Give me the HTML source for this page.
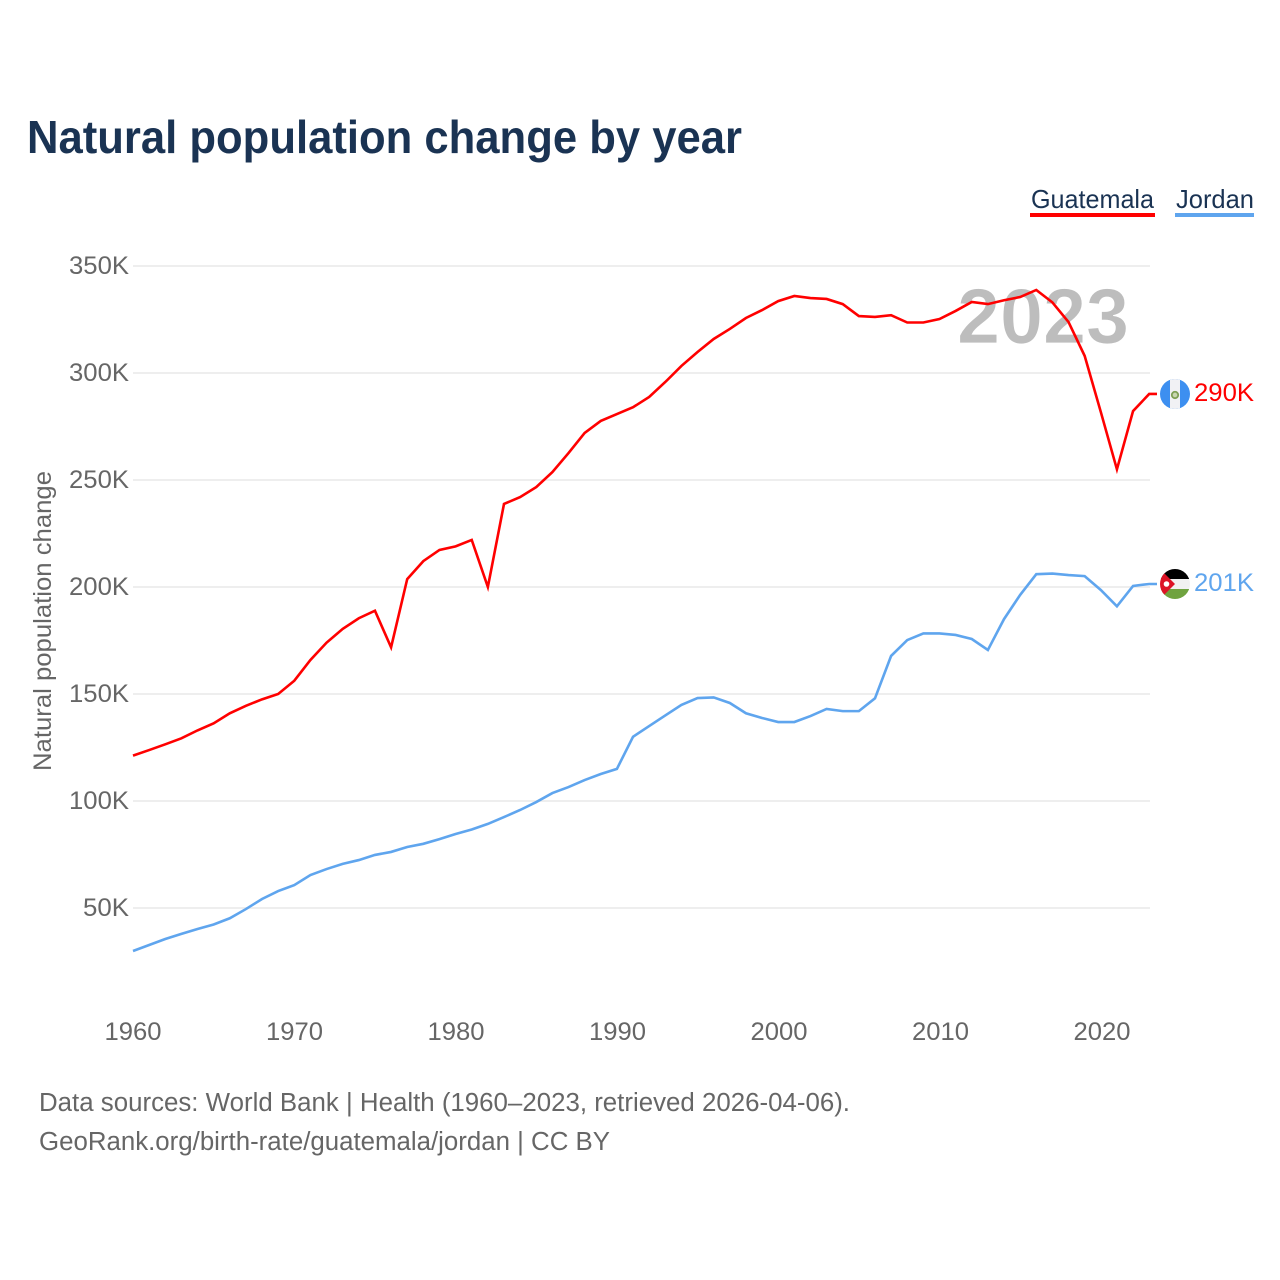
<!DOCTYPE html>
<html lang="en">
<head>
<meta charset="utf-8">
<title>Natural population change by year</title>
<style>
html,body{margin:0;padding:0;background:#fff;width:1280px;height:1280px;overflow:hidden}
svg{display:block;font-family:"Liberation Sans",Arial,sans-serif}
</style>
</head>
<body>
<svg id="chart" xmlns="http://www.w3.org/2000/svg" width="1280" height="1280" viewBox="0 0 1280 1280">
  <defs>
    <clipPath id="flag-clip"><circle cx="0" cy="0" r="15"/></clipPath>
  </defs>
  <rect width="1280" height="1280" fill="#fff"/>
  <text x="27" y="153" font-size="46" font-weight="700" fill="#1a3353" textLength="715" lengthAdjust="spacingAndGlyphs">Natural population change by year</text>

  <g>
    <g>
      <text x="1031" y="208" font-size="26" fill="#1a3353" textLength="123" lengthAdjust="spacingAndGlyphs">Guatemala</text>
      <rect x="1030" y="213" width="125" height="4" fill="#ff0000"/>
    </g>
    <g>
      <text x="1176" y="208" font-size="26" fill="#1a3353" textLength="78" lengthAdjust="spacingAndGlyphs">Jordan</text>
      <rect x="1175" y="213" width="79" height="4" fill="#5fa5ee"/>
    </g>
  </g>

  <g id="grid"></g>
  <g id="y-ticks"></g>
  <g id="x-ticks"></g>
  <text x="957" y="343" font-size="78" font-weight="700" fill="#bdbdbd" stroke="#ffffff" stroke-width="0.8" textLength="172" lengthAdjust="spacingAndGlyphs">2023</text>
  <text transform="translate(51,771) rotate(-90)" font-size="25" fill="#666" textLength="300" lengthAdjust="spacingAndGlyphs">Natural population change</text>
  <g id="series"></g>

  <g id="flag-guatemala" clip-path="url(#flag-clip)">
    <rect x="-15" y="-15" width="30" height="30" fill="#3d8ff0"/>
    <rect x="-5" y="-15" width="10" height="30" fill="#f1f1f4"/>
    <circle cx="0" cy="1" r="3.2" fill="#c9d6b0" stroke="#7f9f55" stroke-width="1.8"/>
  </g>
  <g id="flag-jordan" clip-path="url(#flag-clip)">
    <rect x="-15" y="-15" width="30" height="10" fill="#000"/>
    <rect x="-15" y="-5" width="30" height="10" fill="#f1f1f1"/>
    <rect x="-15" y="5" width="30" height="10" fill="#6fa33f"/>
    <polygon points="-15,-15 0,0 -15,15" fill="#dd1326"/>
    <circle cx="-8.5" cy="0" r="2.8" fill="#fff"/>
  </g>

  <text id="label-guatemala" x="1194" font-size="25" fill="#ff0000" textLength="60" lengthAdjust="spacingAndGlyphs"></text>
  <text id="label-jordan" x="1194" font-size="25" fill="#5fa5ee" textLength="60" lengthAdjust="spacingAndGlyphs"></text>

  <text x="39" y="1111" font-size="25.5" fill="#666" textLength="811" lengthAdjust="spacingAndGlyphs">Data sources: World Bank | Health (1960–2023, retrieved 2026-04-06).</text>
  <text x="39" y="1150" font-size="25.5" fill="#666" textLength="571" lengthAdjust="spacingAndGlyphs">GeoRank.org/birth-rate/guatemala/jordan | CC BY</text>
</svg>
<script>
const firstYear = 1960;
const guatemalaValues = [121.2,123.8,126.5,129.3,133,136.3,141,144.5,147.5,150,156.2,165.9,174,180.4,185.4,188.9,171.8,203.7,212.1,217.3,219,222,200,238.8,242,246.7,253.7,262.6,272,277.6,280.8,284,288.8,295.8,303.3,309.8,315.9,320.6,325.7,329.4,333.6,336,335,334.6,332.2,326.6,326.2,327,323.6,323.6,325.2,329,333.2,332.2,334,335.5,338.8,333,323.8,308,281.8,255,282.2,290.2];
const jordanValues = [29.9,32.7,35.5,37.9,40.2,42.3,45.2,49.5,54.2,57.9,60.7,65.4,68.2,70.6,72.4,74.8,76.2,78.5,80,82.2,84.6,86.7,89.3,92.5,95.8,99.5,103.7,106.5,109.8,112.6,115,130,135,140,144.9,148.1,148.4,145.8,141,138.8,136.9,136.9,139.7,143,142,142,148,167.8,175.2,178.3,178.3,177.6,175.7,170.6,185,196.3,206,206.3,205.6,205.1,198.6,191,200.5,201.4];
const yTickValues = [50,100,150,200,250,300,350];
const yTickLabels = ["50K","100K","150K","200K","250K","300K","350K"];
const xTickYears = [1960,1970,1980,1990,2000,2010,2020];
const guatemalaEndLabel = "290K";
const jordanEndLabel = "201K";

const NS = "http://www.w3.org/2000/svg";
function xScale(year){ return 133 + (year - 1960) * 16.13; }
function yScale(v){ return 1015 - v * 2.14; }
function make(tag, attrs, parent){
  const el = document.createElementNS(NS, tag);
  for (const k in attrs) el.setAttribute(k, attrs[k]);
  parent.appendChild(el);
  return el;
}
const grid = document.getElementById("grid");
const yTicks = document.getElementById("y-ticks");
const xTicks = document.getElementById("x-ticks");
const series = document.getElementById("series");

yTickValues.forEach(function(v, i){
  const line = make("line", {x1:133, x2:1150, y1:yScale(v), y2:yScale(v), stroke:"#eeeeee", "stroke-width":2}, grid);
  
  
  const w = yTickLabels[i].length === 3 ? 46 : 60;
  const t = make("text", {x:129, y:yScale(v)+8, "text-anchor":"end", "font-size":25, fill:"#666", textLength:w, lengthAdjust:"spacingAndGlyphs"}, yTicks);
  
  
  t.textContent = yTickLabels[i];
});
xTickYears.forEach(function(yr){
  const t = make("text", {x:xScale(yr) + (yr - 1960) * 0.02, y:1040, "text-anchor":"middle", "font-size":25, fill:"#666", textLength:57, lengthAdjust:"spacingAndGlyphs"}, xTicks);
  
  
  t.textContent = yr;
});
function drawSeries(values, color){
  const pts = values.map(function(v, i){ return xScale(firstYear + i).toFixed(2) + "," + yScale(v).toFixed(2); });
  const lastY = yScale(values[values.length - 1]);
  pts.push("1157," + lastY.toFixed(2));
  return make("polyline", {points:pts.join(" "), fill:"none", stroke:color, "stroke-width":2.6, "stroke-linejoin":"miter"}, series);
}
const lineG = drawSeries(guatemalaValues, "#ff0000");


const lineJ = drawSeries(jordanValues, "#5fa5ee");



const gy = yScale(guatemalaValues[guatemalaValues.length - 1]);
const jy = yScale(jordanValues[jordanValues.length - 1]);
document.getElementById("flag-guatemala").setAttribute("transform", "translate(1175," + gy + ")");
document.getElementById("flag-jordan").setAttribute("transform", "translate(1175," + jy + ")");
const lg = document.getElementById("label-guatemala");
lg.setAttribute("y", gy + 7);
lg.textContent = guatemalaEndLabel;
const lj = document.getElementById("label-jordan");
lj.setAttribute("y", jy + 7);
lj.textContent = jordanEndLabel;
</script>
</body>
</html>
